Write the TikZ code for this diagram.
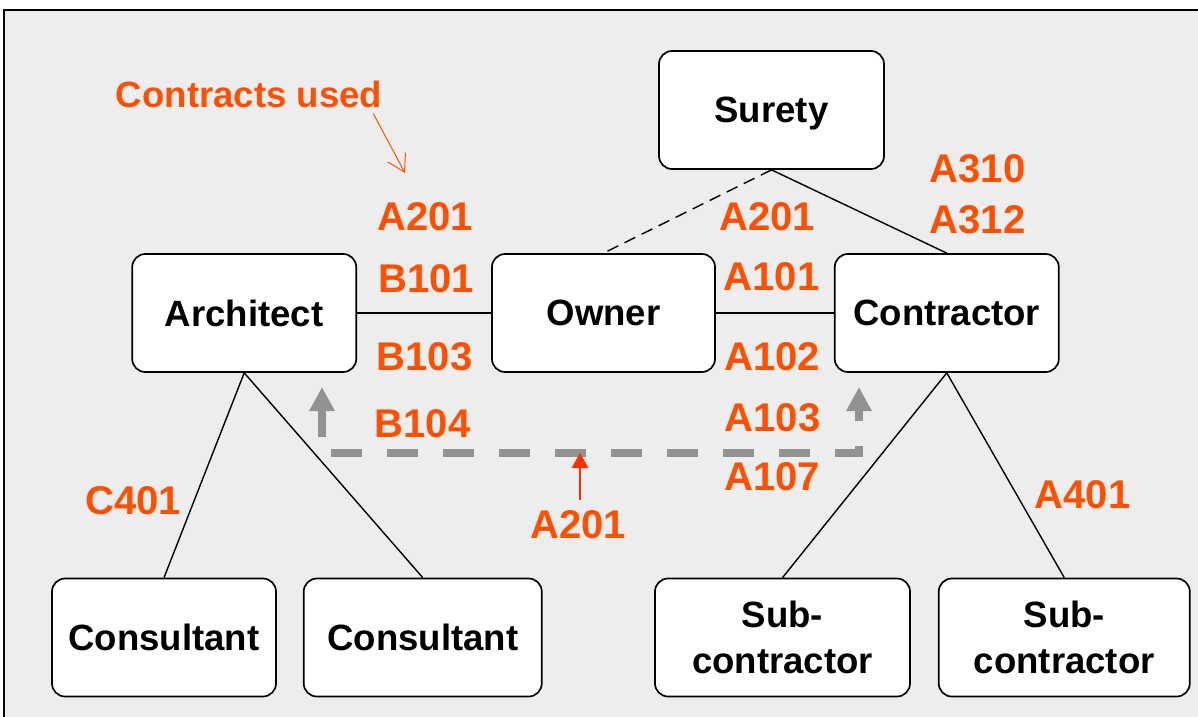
\documentclass[tikz,border=0pt]{standalone}
\usepackage{fontspec}
\setmainfont{Liberation Sans}
\usepackage{tikz}
\usetikzlibrary{arrows.meta,positioning}
\definecolor{codeorange}{RGB}{255,80,0}
\definecolor{pointred}{RGB}{255,45,0}
\definecolor{flowgray}{RGB}{146,146,146}
\definecolor{sheet}{RGB}{237,237,237}

\begin{document}
\begin{tikzpicture}[x=0.025cm, y=-0.025cm,
      party/.style={draw, fill=white, line width=1.2pt, rounded corners=0.33cm,
        minimum width=5.6cm, minimum height=2.95cm, align=center, inner sep=0pt,
        text depth=0pt, font=\fontsize{26}{32.7}\selectfont\bfseries},
      code/.style={text=codeorange, inner sep=0pt, anchor=base,
        font=\fontsize{28.5}{34}\selectfont\bfseries},
      link/.style={line width=1pt},
      flow/.style={draw=flowgray, line width=5pt, dash pattern=on 0.775cm off 0.625cm,
        dash phase=0.1cm, {Triangle[length=0.6cm,width=0.6cm]}-{Triangle[length=0.6cm,width=0.6cm]}}]
     \clip (0,0) rectangle (1198,717);
     \fill[white] (0,0) rectangle (1198,717);
     \draw[line width=1.4pt, fill=sheet] (4,10) rectangle (1230,750);
     % parties
     \node[party, minimum width=5.575cm] (owner) at (603.5,313) {Owner};
     \node[party, left=3.35cm of owner] (architect) {Architect};
     \node[party, right=2.95cm of owner] (contractor) {Contractor};
     \node[party, minimum width=5.625cm] (surety) at (771.5,110) {Surety};
     \node[party] (cons1) at (164,637.5) {Consultant};
     \node[party, minimum width=5.95cm, right=0.65cm of cons1] (cons2) {Consultant};
     \node[party, minimum width=6.375cm] (sub1) at (782.5,637.5) {Sub-\\contractor};
     \node[party, minimum width=6.275cm, right=0.675cm of sub1] (sub2) {Sub-\\contractor};
     % links
     \draw[link] (architect) -- (owner);
     \draw[link] (owner) -- (contractor);
     \draw[link, dash pattern=on 0.3cm off 0.175cm] (surety.south) -- (owner.north);
     \draw[link] (surety.south) -- (contractor.north);
     \draw[link] (architect.south) -- (cons1.north);
     \draw[link] (architect.south) -- (cons2.north);
     \draw[link] (contractor.south) -- (sub1.north);
     \draw[link] (contractor.south) -- (sub2.north);
     % contract codes
     \node[code, font=\fontsize{26}{31}\selectfont\bfseries] (used) at (249,107) {Contracts used};
     \node[code] (a201arch) at (425,230) {A201};
     \node[code] (b101) at (426,292) {B101};
     \node[code] (b103) at (424.5,370) {B103};
     \node[code] (b104) at (422.5,437) {B104};
     \node[code] (a201own) at (767,230) {A201};
     \node[code] (a101) at (771.5,290) {A101};
     \node[code] (a102) at (772,370) {A102};
     \node[code] (a103) at (772.5,431) {A103};
     \node[code] (a107) at (772,490) {A107};
     \node[code] (a310) at (977.5,182) {A310};
     \node[code] (a312) at (977.5,233) {A312};
     \node[code] (c401) at (133,514) {C401};
     \node[code] (a401) at (1082.5,508) {A401};
     \node[code] (a201flow) at (578,538) {A201};
     % flow of the general conditions
     \coordinate (flowA) at (322,387);
     \coordinate (flowB) at (859,387);
     \coordinate (flowmid) at (580,453);
     \coordinate (usedtip) at (405,173);
     \draw[flow] (flowA) -- (flowA |- flowmid) -- (flowB |- flowmid) -- (flowB);
     \draw[pointred, line width=1pt, -{Triangle[length=0.38cm,width=0.42cm]}]
       (flowmid |- a201flow.north) ++(0,-10) -- (flowmid);
     \draw[codeorange, line width=0.7pt, -{Straight Barb[length=0.42cm,width=0.5cm]}]
       ([xshift=-0.225cm,yshift=-0.15cm]used.south east) -- (usedtip);
    \end{tikzpicture}
\end{document}
